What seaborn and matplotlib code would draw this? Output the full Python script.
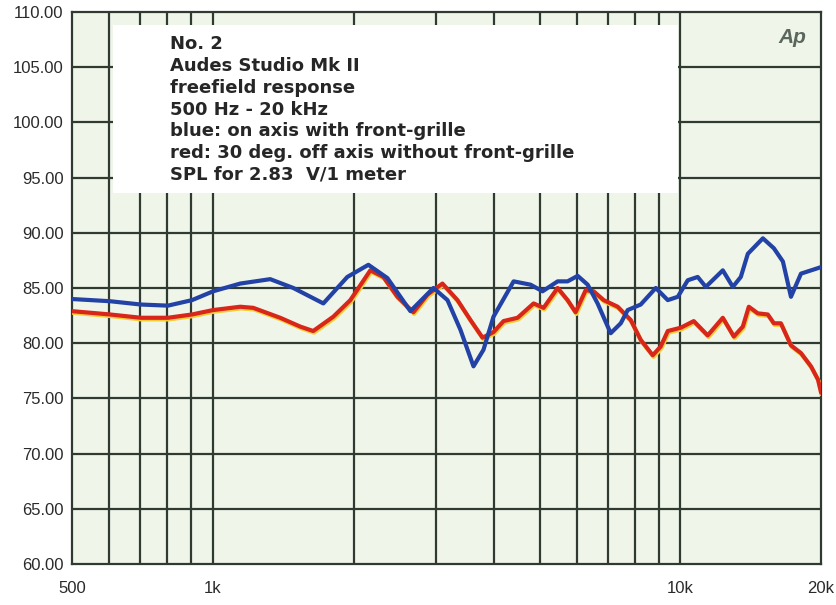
import matplotlib
matplotlib.use("Agg")
import matplotlib.pyplot as plt
import matplotlib.patheffects as pe
from matplotlib.patches import Rectangle
import seaborn as sns

# blue: on axis with front-grille
blue_freq = [500, 603, 702, 802, 903, 1002, 1145, 1327, 1487, 1724, 1940, 2152,
             2363, 2647, 2965, 3177, 3387, 3611, 3793, 3985, 4400, 4782, 5074,
             5465, 5740, 6032, 6336, 6653, 7096, 7457, 7717, 8227, 8861, 9400,
             9875, 10373, 10893, 11337, 12326, 12950, 13469, 13943, 15015,
             15849, 16571, 17242, 18113, 19696, 20000]
blue_db = [84.0, 83.8, 83.5, 83.4, 83.9, 84.7, 85.4, 85.8, 85.0, 83.6, 86.0, 87.1,
           85.9, 82.9, 85.0, 83.9, 81.2, 77.9, 79.4, 82.4, 85.6, 85.3, 84.7,
           85.6, 85.6, 86.1, 85.3, 83.6, 80.9, 81.8, 83.0, 83.5, 85.0, 83.9,
           84.2, 85.7, 86.0, 85.1, 86.6, 85.1, 86.0, 88.1, 89.5,
           88.6, 87.4, 84.2, 86.3, 86.8, 86.9]

# red: 30 deg. off axis without front-grille
red_freq = [500, 603, 702, 802, 903, 1002, 1145, 1221, 1394, 1539, 1640, 1811,
            1969, 2173, 2317, 2483, 2686, 2879, 3099, 3337, 3557, 3775, 3985,
            4187, 4487, 4855, 5100, 5465, 5740, 5970, 6274, 6524, 6856, 7346,
            7831, 8227, 8729, 9079, 9400, 10022, 10683, 11443, 12326, 13014,
            13603, 14010, 14648, 15382, 15849, 16406, 17242, 18113, 19027,
            19696, 20000]
red_db = [82.9, 82.6, 82.3, 82.3, 82.6, 83.0, 83.3, 83.2, 82.3, 81.5, 81.1, 82.4,
          83.9, 86.6, 86.0, 84.2, 82.8, 84.4, 85.4, 83.9, 82.1, 80.5, 81.0,
          82.0, 82.3, 83.6, 83.2, 85.0, 83.9, 82.8, 84.8, 84.7, 83.9, 83.3,
          82.1, 80.3, 78.9, 79.7, 81.1, 81.4, 82.0, 80.7, 82.3, 80.6,
          81.5, 83.3, 82.7, 82.6, 81.8, 81.8, 79.8, 79.1, 77.9,
          76.7, 75.5]

grid_freqs = [600, 700, 800, 900, 1000, 2000, 3000, 4000, 5000, 6000, 7000,
              8000, 9000, 10000]
x_ticks = [500, 1000, 10000, 20000]
x_labels = ["500", "1k", "10k", "20k"]
y_ticks = [60, 65, 70, 75, 80, 85, 90, 95, 100, 105, 110]

note_lines = [
    "No. 2",
    "Audes Studio Mk II",
    "freefield response",
    "500 Hz - 20 kHz",
    "blue: on axis with front-grille",
    "red: 30 deg. off axis without front-grille",
    "SPL for 2.83  V/1 meter",
]

sns.set_style("white")
plt.rcParams["font.family"] = ["Liberation Sans", "DejaVu Sans"]

fig, ax = plt.subplots(figsize=(8.37, 6.05), dpi=100)
fig.subplots_adjust(left=0.086, right=0.981, top=0.980, bottom=0.068)
fig.patch.set_facecolor("white")
ax.set_facecolor("#f0f5ea")

ax.set_xscale("log")
ax.set_xlim(500, 20000)
ax.set_ylim(60, 110)

grid_col = "#2f3a30"
for f in grid_freqs:
    ax.axvline(f, color=grid_col, lw=1.6, zorder=1)
for v in y_ticks[1:-1]:
    ax.axhline(v, color=grid_col, lw=1.6, zorder=1)
for s in ax.spines.values():
    s.set_color(grid_col)
    s.set_linewidth(1.6)

# white note box
ax.add_patch(Rectangle((612, 93.6), 9880 - 612, 108.8 - 93.6,
                       facecolor="white", edgecolor="none", zorder=2))
ax.text(0.131, 0.958, "\n".join(note_lines), transform=ax.transAxes,
        ha="left", va="top", fontsize=13, fontweight="bold",
        family=["DejaVu Sans"], color="#262626", linespacing=1.27, zorder=3)
ax.text(0.962, 0.972, "Ap", transform=ax.transAxes, ha="center", va="top",
        fontsize=15, style="italic", fontweight="bold", color="#5b665d",
        zorder=3)

sns.lineplot(x=red_freq, y=red_db, ax=ax, color="#d8261a", lw=3,
             estimator=None, sort=False, zorder=4,
             path_effects=[pe.Stroke(offset=(0.6, -1.2), linewidth=3,
                                     foreground="#f2cf3a"), pe.Normal()])
sns.lineplot(x=blue_freq, y=blue_db, ax=ax, color="#2342a6", lw=3,
             estimator=None, sort=False, zorder=5)

ax.set_xticks(x_ticks)
ax.set_xticklabels(x_labels)
ax.xaxis.set_minor_locator(matplotlib.ticker.NullLocator())
ax.set_yticks(y_ticks)
ax.set_yticklabels([f"{v:.2f}" for v in y_ticks])
ax.tick_params(axis="both", length=0, labelsize=12, colors="#2a2a2a")
ax.tick_params(axis="x", pad=12)
ax.tick_params(axis="y", pad=6)
ax.set_xlabel("")
ax.set_ylabel("")

fig.savefig("out.png", dpi=100)
